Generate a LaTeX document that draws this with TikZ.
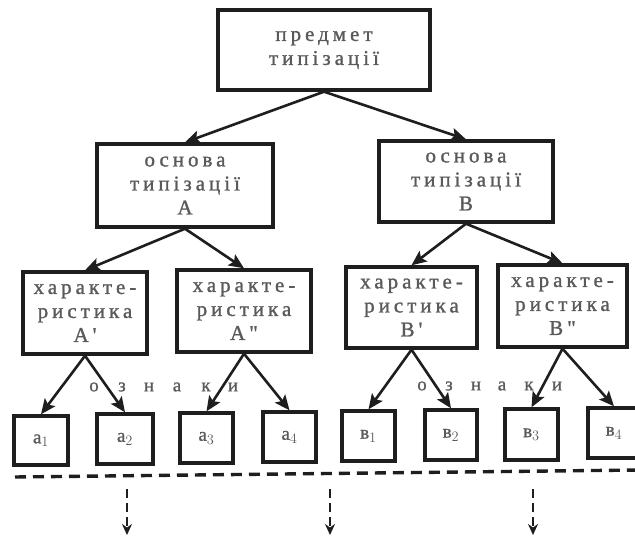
\documentclass[tikz,border=0pt]{standalone}
\usepackage{fontspec}
\setmainfont{Liberation Serif}
\newfontfamily\spaced[LetterSpace=19,FakeBold=1.2]{Liberation Serif}
\newfontfamily\plainlbl[FakeBold=1.0]{Liberation Serif}
\usetikzlibrary{arrows.meta}
\definecolor{ink}{RGB}{30,30,30}
\definecolor{txt}{RGB}{90,90,90}

\begin{document}
\begin{tikzpicture}[x=1pt,y=-1pt,
  box/.style={draw=ink, line width=3.4pt, rectangle, inner sep=0pt, align=center,
    text=txt, font=\spaced\fontsize{21}{24}\selectfont},
  leaf/.style={draw=ink, line width=3.4pt, rectangle, inner sep=0pt,
    minimum width=53pt, minimum height=50pt, text=txt, font=\plainlbl\fontsize{19}{21}\selectfont},
  link/.style={draw=ink, line width=2.6pt, -{Stealth[length=15pt,width=13pt,inset=3pt]}},
  flow/.style={draw=ink, line width=2.8pt, dash pattern=on 9pt off 5pt,
    -{Stealth[length=11pt,width=10pt]}},
  letter/.style={text=txt, inner sep=0pt, font=\plainlbl\fontsize{19}{21}\selectfont}
]
\useasboundingbox (0,0) rectangle (635,537);

% subject of typing
\node[box, minimum width=212pt, minimum height=80pt] (top) at (324,50) {предмет\\типізації};

% bases of typing
\node[box, minimum width=176pt, minimum height=83pt] (A) at (185,185.5) {основа\\типізації\\А};
\node[box, minimum width=174pt, minimum height=81pt] (B) at (466,181.5) {основа\\типізації\\В};

% characteristics
\node[box, minimum width=124pt, minimum height=82pt] (A1) at (85,313) {характе-\\ристика\\А'};
\node[box, minimum width=134pt, minimum height=82pt] (A2) at (244,311) {характе-\\ристика\\А"};
\node[box, minimum width=131pt, minimum height=81pt] (B1) at (411.5,307.5) {характе-\\ристика\\В'};
\node[box, minimum width=129pt, minimum height=82pt] (B2) at (562.5,306) {характе-\\ристика\\В"};

% features
\node[leaf, minimum width=54pt, minimum height=49pt] (a1) at (41,440.5) {а$_1$};
\node[leaf, minimum width=56pt] (a2) at (125,439) {а$_2$};
\node[leaf] (a3) at (206.5,438) {а$_3$};
\node[leaf] (a4) at (289.5,437) {а$_4$};
\node[leaf] (b1) at (368.5,436) {в$_1$};
\node[leaf, minimum width=52pt] (b2) at (451,435) {в$_2$};
\node[leaf, minimum height=51pt] (b3) at (531.5,434.5) {в$_3$};
\node[leaf, minimum width=52pt] (b4) at (614,433) {в$_4$};

% word "ознаки" spread across the feature arrows
\foreach \ch/\x [count=\i] in {о/94,з/122,н/149,а/177,к/206,и/233}
  \node[letter] (la\i) at (\x,387) {\ch};
\foreach \ch/\x [count=\i] in {о/422,з/449,н/476,а/502,к/529,и/557}
  \node[letter] (lb\i) at (\x,386) {\ch};

% tree connectors
\draw[link] (top.south) -- (A.north);
\draw[link] (top.south) -- (B.north);
\draw[link] (A.south) -- (A1.north);
\draw[link] (A.south) -- (A2.north);
\draw[link] (B.south) -- (B1.north);
\draw[link] (B.south) -- (B2.north);
\draw[link] (A1.south) -- (a1.north);
\draw[link] (A1.south) -- (a2.north);
\draw[link] (A2.south) -- (a3.north);
\draw[link] (A2.south) -- (a4.north);
\draw[link] (B1.south) -- (b1.north);
\draw[link] (B1.south) -- (b2.north);
\draw[link] (B2.south) -- (b3.north);
\draw[link] (B2.south) -- (b4.north);

% dividing line and continuation arrows
\coordinate (lineL) at (15,477);
\coordinate (lineR) at (640,470);
\draw[ink, line width=3.4pt, dash pattern=on 11pt off 7pt] (lineL) -- (lineR);
\foreach \x [count=\i] in {127,330,533} {
  \coordinate (s\i) at (\x,489);
  \coordinate (e\i) at (\x,535);
  \draw[flow] (s\i) -- (e\i);
}
\end{tikzpicture}
\end{document}
